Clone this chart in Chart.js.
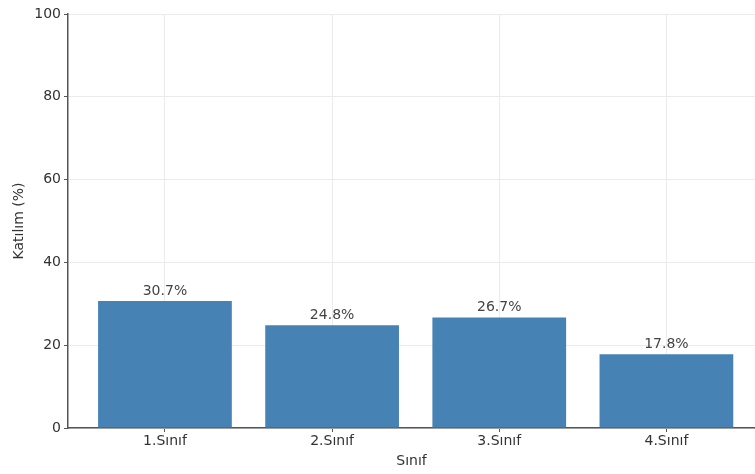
<!DOCTYPE html>
<html>
<head>
<meta charset="utf-8">
<script src="https://cdn.jsdelivr.net/npm/chart.js"></script>
<style>
  html, body { margin: 0; padding: 0; background: #fff; overflow: hidden; }
  #wrap { width: 755px; height: 474px; }
</style>
</head>
<body>
<div id="wrap"><canvas id="c" width="755" height="474"></canvas></div>
<script>
// chart data
const categories = ["1.Sınıf", "2.Sınıf", "3.Sınıf", "4.Sınıf"];
const katilim = [30.7, 24.8, 26.7, 17.8];
const yTicks = [0, 20, 40, 60, 80, 100];

const barColor = "#4682b4";
const textColor = "#333333";
const font = "'DejaVu Sans', sans-serif";

// labels above the bars
const valueLabels = {
  id: "valueLabels",
  afterDatasetsDraw(chart) {
    const ctx = chart.ctx;
    const meta = chart.getDatasetMeta(0);
    ctx.save();
    ctx.font = "14px " + font;
    ctx.fillStyle = "#444";
    ctx.textAlign = "center";
    ctx.textBaseline = "bottom";
    meta.data.forEach((bar, i) => {
      ctx.fillText(katilim[i].toFixed(1) + "%", bar.x, bar.y - 3);
    });
    ctx.restore();
  }
};

new Chart(document.getElementById("c"), {
  type: "bar",
  data: {
    datasets: [{
      data: katilim.map((v, i) => ({ x: i, y: v })),
      backgroundColor: barColor,
      borderWidth: 0,
      barPercentage: 0.8,
      categoryPercentage: 1.0
    }]
  },
  options: {
    responsive: false,
    animation: false,
    layout: { padding: { top: 14, right: 0, left: 0, bottom: 4 } },
    plugins: {
      legend: { display: false },
      tooltip: { enabled: false }
    },
    scales: {
      x: {
        type: "linear",
        offset: false,
        min: -0.58,
        max: 3.53,
        afterFit(scale) { scale.height = 42; },
        afterBuildTicks(scale) {
          scale.ticks = categories.map((c, i) => ({ value: i }));
        },
        ticks: {
          color: textColor,
          font: { family: font, size: 14 },
          padding: 1,
          maxRotation: 0,
          callback: (v) => categories[v]
        },
        grid: { offset: false, color: "#ebebeb", tickColor: "#555", tickLength: 4, lineWidth: 1 },
        border: { color: "#555", width: 1.5 },
        title: {
          display: true,
          text: "Sınıf",
          color: textColor,
          font: { family: font, size: 14 },
          padding: { top: 0, bottom: 0 }
        }
      },
      y: {
        min: 0,
        max: 100,
        afterFit(scale) { scale.width = 68; },
        afterBuildTicks(scale) {
          scale.ticks = yTicks.map(v => ({ value: v }));
        },
        ticks: {
          color: textColor,
          font: { family: font, size: 14 },
          padding: 3
        },
        grid: { color: "#ebebeb", tickColor: "#555", tickLength: 4, lineWidth: 1 },
        border: { color: "#555", width: 1.5 },
        title: {
          display: true,
          text: "Katılım (%)",
          color: textColor,
          font: { family: font, size: 14 },
          padding: { top: 11, bottom: 0 }
        }
      }
    }
  },
  plugins: [valueLabels]
});
</script>
</body>
</html>
